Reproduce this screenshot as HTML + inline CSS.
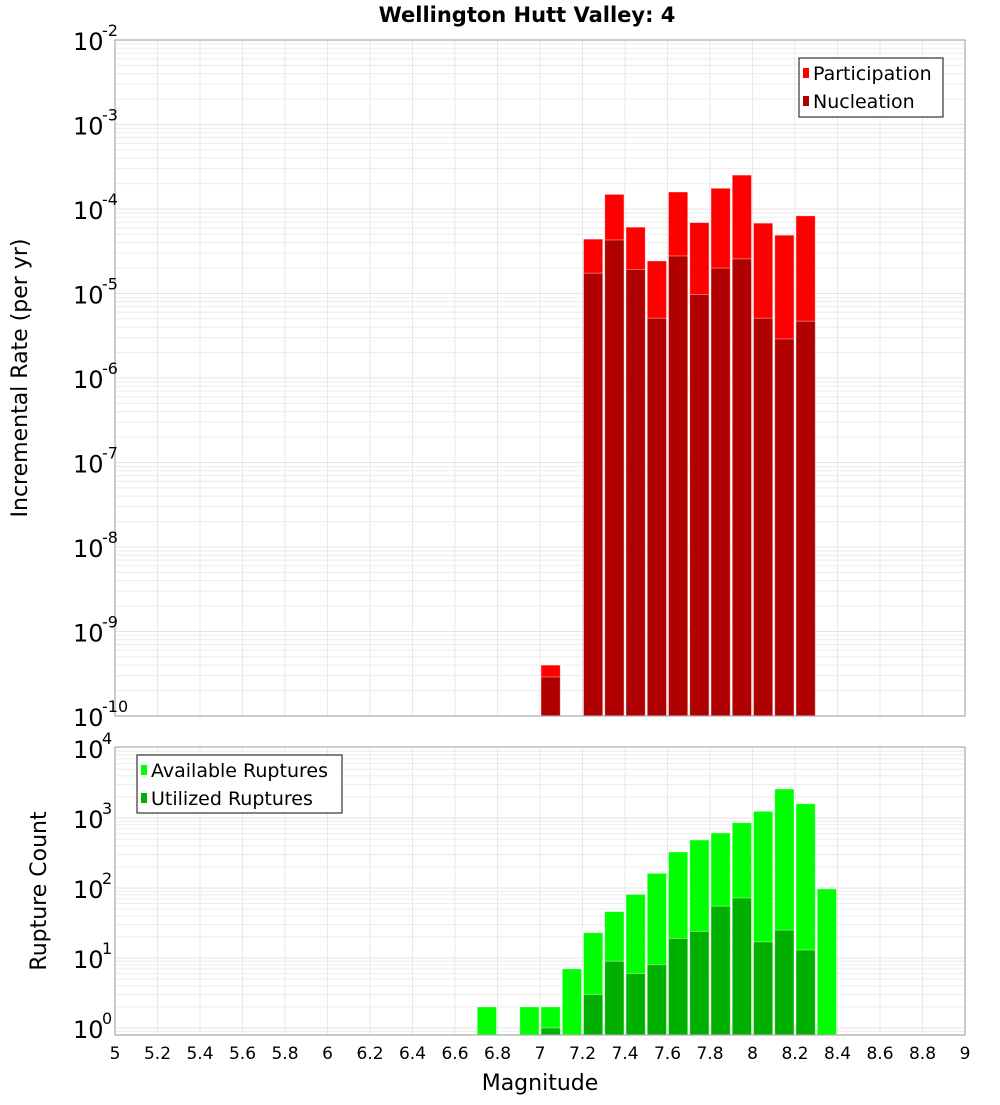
<!DOCTYPE html>
<html><head><meta charset="utf-8"><style>
body{margin:0;background:#fff;}
svg text{font-family:"DejaVu Sans","Liberation Sans",sans-serif;}
</style></head><body>
<svg id="chart" width="1000" height="1100" xmlns="http://www.w3.org/2000/svg">
<rect width="1000" height="1100" fill="#fff"/>
<text x="527" y="22" text-anchor="middle" font-size="21" font-weight="bold">Wellington Hutt Valley: 4</text>
<g id="topg"></g><g id="botg"></g><g id="xaxis"></g>
<text transform="translate(27,378) rotate(-90)" text-anchor="middle" font-size="22">Incremental Rate (per yr)</text>
<text transform="translate(46,891) rotate(-90)" text-anchor="middle" font-size="22">Rupture Count</text>
<text x="540" y="1090" text-anchor="middle" font-size="22">Magnitude</text>
<g>
<rect x="799" y="58" width="144" height="59" fill="#fff" stroke="#333" stroke-width="1.2"/>
<rect x="803" y="68" width="6" height="10" fill="#ff0000"/>
<text x="813" y="80" font-size="19">Participation</text>
<rect x="803" y="96" width="6" height="10" fill="#b00000"/>
<text x="813" y="108" font-size="19">Nucleation</text>
</g>
<g>
<rect x="137" y="755" width="205" height="58" fill="#fff" stroke="#333" stroke-width="1.2"/>
<rect x="141" y="765" width="6" height="10" fill="#00ff00"/>
<text x="151" y="777" font-size="19">Available Ruptures</text>
<rect x="141" y="793" width="6" height="10" fill="#00b000"/>
<text x="151" y="805" font-size="19">Utilized Ruptures</text>
</g>
</svg>
<script>
const magBins=[7.05,7.25,7.35,7.45,7.55,7.65,7.75,7.85,7.95,8.05,8.15,8.25];
const participation=[4.0e-10,4.4e-5,1.49e-4,6.1e-5,2.43e-5,1.59e-4,6.9e-5,1.76e-4,2.52e-4,6.8e-5,4.9e-5,8.3e-5];
const nucleation=[2.9e-10,1.74e-5,4.3e-5,1.93e-5,5.1e-6,2.78e-5,9.7e-6,2.0e-5,2.57e-5,5.1e-6,2.9e-6,4.7e-6];
const countBins=[6.75,6.95,7.05,7.15,7.25,7.35,7.45,7.55,7.65,7.75,7.85,7.95,8.05,8.15,8.25,8.35];
const available=[2,2,2,7,23,46,81,162,327,485,611,857,1247,2596,1600,97];
const utilized=[0,0,1,0,3,9,6,8,19,24,55,72,17,25,13,0];
const xTicks=[5,5.2,5.4,5.6,5.8,6,6.2,6.4,6.6,6.8,7,7.2,7.4,7.6,7.8,8,8.2,8.4,8.6,8.8,9];
const topExps=[-2,-3,-4,-5,-6,-7,-8,-9,-10];
const botExps=[0,1,2,3,4];

const NS="http://www.w3.org/2000/svg";
const X0=115,X1=965;
const xs=m=>X0+(m-5)/4*(X1-X0);
const TT=40,TB=716;
const yTop=v=>TT+(-2-Math.log10(v))*(TB-TT)/8;
const BT=747,BB=1035;
const yBot=v=>1028-70*Math.log10(v);
function mk(p,tag,at){const e=document.createElementNS(NS,tag);for(const k in at)e.setAttribute(k,at[k]);p.appendChild(e);return e;}
const gTop=document.getElementById('topg'),gBot=document.getElementById('botg'),xa=document.getElementById('xaxis');

function grid(g,yT,yB,yf,dmin,dmax){
  for(let d=dmin;d<dmax;d++)for(let k=1;k<10;k++){const y=yf(k*Math.pow(10,d));if(y<yT||y>yB)continue;
    const l=mk(g,'line',{x1:X0,x2:X1,y1:y,y2:y,stroke:k==1?'#e4e4e4':'#ececec','stroke-width':1});
    
    }
  xTicks.forEach(t=>{const l=mk(g,'line',{x1:xs(t),x2:xs(t),y1:yT,y2:yB,stroke:'#e8e8e8','stroke-width':1});
    
    });
}
grid(gTop,TT,TB,yTop,-10,-1);
grid(gBot,BT,BB,yBot,-1,4);
const bw=(X1-X0)/40;
function bar(g,m,v,yf,yB,col,name){
  if(!v)return;const y=yf(v);
  const r=mk(g,'rect',{x:xs(m)-bw/2+1,y:y,width:bw-2,height:yB-y,fill:col,stroke:'#fff','stroke-opacity':0.5,'stroke-width':0.8});
  
  
}
magBins.forEach((m,i)=>bar(gTop,m,participation[i],yTop,TB,'#ff0000','participation-bar'));
magBins.forEach((m,i)=>bar(gTop,m,nucleation[i],yTop,TB,'#b00000','nucleation-bar'));
countBins.forEach((m,i)=>bar(gBot,m,available[i],yBot,BB,'#00ff00','available-bar'));
countBins.forEach((m,i)=>bar(gBot,m,utilized[i],yBot,BB,'#00b000','utilized-bar'));
mk(gTop,'rect',{x:X0,y:TT,width:X1-X0,height:TB-TT,fill:'none',stroke:'#aaa','stroke-width':1.2});
mk(gBot,'rect',{x:X0,y:BT,width:X1-X0,height:BB-BT,fill:'none',stroke:'#aaa','stroke-width':1.2});
function ylab(g,y,e,name){
  const t=mk(g,'text',{x:73,y:y+10,'font-size':24});t.textContent='10';
  
  
  const s=mk(g,'text',{x:102,y:y-4,'font-size':16});s.textContent=String(e);
  
  
}
topExps.forEach(e=>ylab(gTop,yTop(Math.pow(10,e)),e,'top-y-tick-label'));
botExps.forEach(e=>ylab(gBot,yBot(Math.pow(10,e)),e,'bottom-y-tick-label'));
xTicks.forEach(t=>{const l=mk(xa,'text',{x:xs(t),y:1059,'text-anchor':'middle','font-size':17});
  l.textContent=String(t);
  
  });
</script>
</body></html>
